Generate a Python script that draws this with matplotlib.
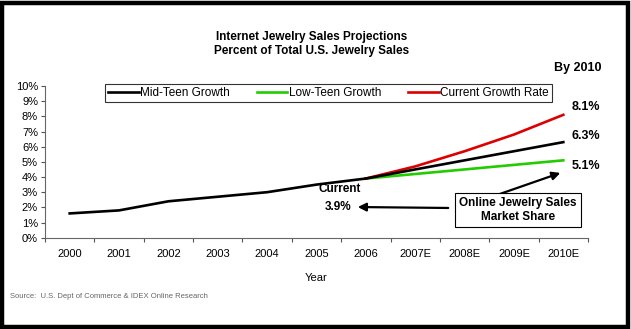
import matplotlib.pyplot as plt
from matplotlib.patches import Rectangle

plt.rcParams['font.family'] = ['Liberation Sans', 'DejaVu Sans']

# data
years = ['2000', '2001', '2002', '2003', '2004', '2005', '2006',
         '2007E', '2008E', '2009E', '2010E']
mid_teen = [1.6, 1.8, 2.4, 2.7, 3.0, 3.5, 3.9, 4.5, 5.1, 5.7, 6.3]
low_teen = [3.9, 4.2, 4.5, 4.8, 5.1]
current_rate = [3.9, 4.7, 5.7, 6.8, 8.1]
end_labels = ['8.1%', '6.3%', '5.1%']
y_ticks = list(range(0, 11))

W, H = 631, 329
fig = plt.figure(figsize=(W / 100, H / 100), dpi=100)

# black frame around picture
fig.patches.append(Rectangle((1.5 / W, 2 / H), 1 - 4.5 / W, 1 - 5 / H,
                             transform=fig.transFigure, fill=False,
                             edgecolor='black', linewidth=3.2))

ax = fig.add_axes([45 / W, 1 - 237.7 / H, 543 / W, 151.7 / H])

x = list(range(len(years)))
proj_x = x[6:]
ax.plot(x, mid_teen, color='black', lw=1.9, label='Mid-Teen Growth', zorder=3)
ax.plot(proj_x, low_teen, color='#22cc00', lw=1.9, label='Low-Teen Growth', zorder=2)
ax.plot(proj_x, current_rate, color='#dd0000', lw=1.9, label='Current Growth Rate', zorder=2)

ax.set_xlim(-0.5, len(years) - 0.5)
ax.set_ylim(0, 10)
ax.set_yticks(y_ticks)
ax.set_yticklabels([f'{v}%' for v in y_ticks], fontsize=8)
ax.set_xticks([i - 0.5 for i in range(len(years) + 1)])
ax.set_xticklabels([])
ax.set_xticks(x, minor=True)
ax.set_xticklabels(years, minor=True, fontsize=8)
ax.tick_params(axis='x', which='minor', length=0, pad=8)
ax.tick_params(axis='x', which='major', length=3, color='#555555')
ax.tick_params(axis='y', length=3, color='#555555', pad=2)
for s in ['top', 'right']:
    ax.spines[s].set_visible(False)
for s in ['left', 'bottom']:
    ax.spines[s].set_color('#666666')
ax.set_xlabel('Year', fontsize=8, labelpad=10)

leg = ax.legend(loc='upper left', bbox_to_anchor=(60 / 543, 1.015), ncol=3,
                fontsize=8.5, frameon=True, fancybox=False, borderpad=0.25,
                handlelength=2.6, handletextpad=0.1, columnspacing=2.3,
                borderaxespad=0)
leg.get_frame().set_edgecolor('black')
leg.get_frame().set_linewidth(0.8)

# titles and notes in figure pixels
def ftext(px, py, s, **kw):
    fig.text(px / W, 1 - py / H, s, **kw)

ftext(312, 44, 'Internet Jewelry Sales Projections\nPercent of Total U.S. Jewelry Sales',
      ha='center', va='center', fontsize=8.5, fontweight='bold', linespacing=1.15)
ftext(578, 68, 'By 2010', ha='center', va='center', fontsize=9, fontweight='bold')
for lbl, py in zip(end_labels, [107, 136, 166]):
    ftext(586, py, lbl, ha='center', va='center', fontsize=9, fontweight='bold')
ftext(340, 189, 'Current', ha='center', va='center', fontsize=8.5, fontweight='bold')
ftext(338, 207, '3.9%', ha='center', va='center', fontsize=8.5, fontweight='bold')
ftext(10, 297, 'Source:  U.S. Dept of Commerce & IDEX Online Research',
      ha='left', va='center', fontsize=5.5, color='#666666')

box = fig.text(518 / W, 1 - 210 / H, 'Online Jewelry Sales\nMarket Share',
               ha='center', va='center', fontsize=8.5, fontweight='bold',
               linespacing=1.3,
               bbox=dict(boxstyle='square,pad=0.35', fc='white', ec='black', lw=0.8))

arrow_kw = dict(arrowstyle='-|>', color='black', lw=1.6, mutation_scale=12)
ax.annotate('', xy=(355 / W, 1 - 207 / H), xycoords='figure fraction',
            xytext=(451 / W, 1 - 208 / H), textcoords='figure fraction',
            arrowprops=arrow_kw)
ax.annotate('', xy=(563 / W, 1 - 172 / H), xycoords='figure fraction',
            xytext=(494 / W, 1 - 196 / H), textcoords='figure fraction',
            arrowprops=arrow_kw)

fig.savefig('out.png', dpi=100)
